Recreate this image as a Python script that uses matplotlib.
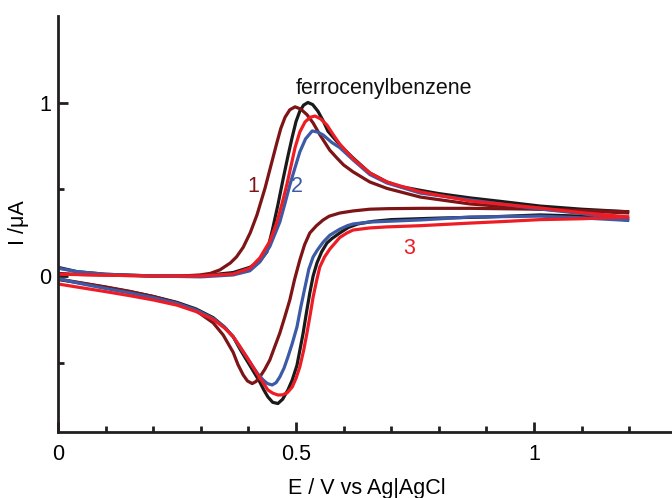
import matplotlib
matplotlib.use("Agg")
import matplotlib.pyplot as plt
from matplotlib.ticker import FixedLocator

plt.rcParams['font.family'] = ['Liberation Sans', 'DejaVu Sans']

# ferrocenylbenzene (black)
blk_fwd_E = [0.0, 0.04, 0.10, 0.20, 0.30, 0.368, 0.403, 0.424, 0.439, 0.450, 0.462, 0.473, 0.483, 0.492, 0.500, 0.508, 0.516, 0.525, 0.535, 0.546, 0.557, 0.567, 0.586, 0.605, 0.620, 0.655, 0.691, 0.72, 0.761, 0.80, 0.866, 0.93, 1.013, 1.1, 1.2]
blk_fwd_I = [0.05, 0.025, 0.01, 0.0, 0.0, 0.02, 0.05, 0.085, 0.14, 0.26, 0.41, 0.56, 0.69, 0.80, 0.89, 0.95, 0.985, 1.0, 0.988, 0.95, 0.895, 0.835, 0.775, 0.72, 0.68, 0.594, 0.542, 0.515, 0.494, 0.475, 0.450, 0.43, 0.403, 0.385, 0.37]
blk_rev_E = [1.2, 1.1, 1.013, 0.90, 0.803, 0.70, 0.662, 0.630, 0.610, 0.592, 0.575, 0.565, 0.554, 0.544, 0.536, 0.529, 0.522, 0.515, 0.508, 0.502, 0.492, 0.483, 0.472, 0.462, 0.451, 0.441, 0.432, 0.424, 0.403, 0.382, 0.368, 0.35, 0.326, 0.29, 0.25, 0.20, 0.15, 0.10, 0.05, 0.0]
blk_rev_I = [0.33, 0.345, 0.352, 0.34, 0.334, 0.325, 0.315, 0.30, 0.28, 0.248, 0.215, 0.190, 0.14, 0.075, 0.0, -0.098, -0.21, -0.329, -0.43, -0.515, -0.60, -0.657, -0.71, -0.735, -0.728, -0.697, -0.655, -0.611, -0.515, -0.42, -0.35, -0.295, -0.24, -0.19, -0.152, -0.118, -0.09, -0.065, -0.042, -0.02]

# 1 (dark red)
dr_fwd_E = [0.0, 0.05, 0.10, 0.20, 0.26, 0.298, 0.320, 0.340, 0.362, 0.375, 0.389, 0.404, 0.418, 0.435, 0.450, 0.460, 0.468, 0.477, 0.487, 0.498, 0.510, 0.523, 0.536, 0.550, 0.571, 0.586, 0.600, 0.620, 0.655, 0.691, 0.761, 0.866, 1.013, 1.1, 1.2]
dr_fwd_I = [0.015, 0.008, 0.005, 0.0, 0.0, 0.006, 0.015, 0.035, 0.075, 0.11, 0.165, 0.25, 0.352, 0.507, 0.665, 0.77, 0.85, 0.915, 0.958, 0.975, 0.962, 0.93, 0.882, 0.815, 0.725, 0.68, 0.64, 0.60, 0.542, 0.505, 0.455, 0.415, 0.385, 0.375, 0.363]
dr_rev_E = [1.2, 1.1, 1.013, 0.866, 0.761, 0.691, 0.655, 0.620, 0.592, 0.570, 0.557, 0.543, 0.529, 0.518, 0.508, 0.497, 0.487, 0.476, 0.466, 0.455, 0.445, 0.434, 0.424, 0.416, 0.408, 0.398, 0.389, 0.378, 0.368, 0.347, 0.326, 0.29, 0.25, 0.20, 0.15, 0.10, 0.05, 0.0]
dr_rev_I = [0.37, 0.378, 0.385, 0.39, 0.39, 0.388, 0.385, 0.375, 0.363, 0.345, 0.323, 0.29, 0.248, 0.18, 0.092, -0.02, -0.138, -0.24, -0.329, -0.41, -0.484, -0.54, -0.582, -0.608, -0.62, -0.605, -0.57, -0.51, -0.44, -0.34, -0.27, -0.2, -0.155, -0.118, -0.088, -0.063, -0.04, -0.017]

# 2 (blue)
bl_fwd_E = [0.0, 0.04, 0.10, 0.20, 0.30, 0.368, 0.403, 0.424, 0.445, 0.466, 0.477, 0.487, 0.498, 0.508, 0.520, 0.534, 0.545, 0.557, 0.575, 0.592, 0.620, 0.655, 0.691, 0.761, 0.866, 1.013, 1.1, 1.2]
bl_fwd_I = [0.045, 0.025, 0.01, 0.0, -0.005, 0.006, 0.03, 0.081, 0.17, 0.311, 0.42, 0.524, 0.625, 0.715, 0.79, 0.836, 0.83, 0.813, 0.77, 0.74, 0.669, 0.585, 0.536, 0.478, 0.438, 0.386, 0.36, 0.32]
bl_rev_E = [1.2, 1.1, 1.013, 0.866, 0.761, 0.691, 0.655, 0.620, 0.608, 0.592, 0.571, 0.557, 0.545, 0.536, 0.527, 0.519, 0.510, 0.502, 0.492, 0.483, 0.475, 0.466, 0.458, 0.450, 0.440, 0.431, 0.420, 0.410, 0.397, 0.382, 0.368, 0.35, 0.326, 0.29, 0.25, 0.20, 0.15, 0.10, 0.05, 0.0]
bl_rev_I = [0.32, 0.335, 0.345, 0.34, 0.323, 0.315, 0.311, 0.30, 0.29, 0.27, 0.235, 0.195, 0.15, 0.11, 0.04, -0.063, -0.18, -0.294, -0.39, -0.467, -0.53, -0.582, -0.615, -0.628, -0.62, -0.599, -0.565, -0.525, -0.47, -0.41, -0.35, -0.295, -0.245, -0.195, -0.158, -0.125, -0.097, -0.072, -0.045, -0.015]

# 3 (red)
rd_fwd_E = [0.0, 0.05, 0.10, 0.20, 0.30, 0.368, 0.403, 0.424, 0.445, 0.460, 0.471, 0.481, 0.490, 0.498, 0.508, 0.519, 0.530, 0.540, 0.552, 0.565, 0.578, 0.592, 0.620, 0.655, 0.691, 0.761, 0.866, 1.013, 1.1, 1.2]
rd_fwd_I = [0.01, 0.008, 0.005, 0.0, 0.0, 0.012, 0.045, 0.104, 0.2, 0.311, 0.42, 0.53, 0.64, 0.74, 0.83, 0.888, 0.915, 0.922, 0.905, 0.870, 0.815, 0.76, 0.675, 0.594, 0.542, 0.485, 0.432, 0.392, 0.365, 0.34]
rd_rev_E = [1.2, 1.1, 1.013, 0.943, 0.866, 0.761, 0.691, 0.655, 0.620, 0.607, 0.592, 0.571, 0.560, 0.550, 0.543, 0.536, 0.530, 0.523, 0.516, 0.508, 0.500, 0.492, 0.482, 0.472, 0.462, 0.451, 0.441, 0.424, 0.403, 0.382, 0.368, 0.35, 0.326, 0.29, 0.25, 0.20, 0.15, 0.10, 0.05, 0.0]
rd_rev_I = [0.34, 0.33, 0.325, 0.315, 0.305, 0.29, 0.283, 0.277, 0.265, 0.248, 0.222, 0.155, 0.11, 0.052, -0.03, -0.121, -0.22, -0.329, -0.43, -0.524, -0.59, -0.640, -0.672, -0.685, -0.686, -0.675, -0.657, -0.588, -0.495, -0.405, -0.35, -0.3, -0.25, -0.205, -0.168, -0.138, -0.113, -0.09, -0.068, -0.046]

x_major = [0, 0.5, 1]
x_major_labels = ["0", "0.5", "1"]
x_minor = [0.1, 0.2, 0.3, 0.4, 0.6, 0.7, 0.8, 0.9, 1.1, 1.2]
y_major = [0, 1]
y_major_labels = ["0", "1"]
y_minor = [-0.5, 0.5, 1.5]

fig = plt.figure(figsize=(6.72, 4.98), dpi=100)
ax = fig.add_axes([58/672, 1-431.5/498, 1-58/672, (431.5-16)/498])

c_blk = "#1a1a1a"
c_dr = "#7d1416"
c_bl = "#3d5aa6"
c_rd = "#ee1d25"
lw = 2.3
for E1, I1, E2, I2, c in [
    (blk_fwd_E, blk_fwd_I, blk_rev_E, blk_rev_I, c_blk),
    (dr_fwd_E, dr_fwd_I, dr_rev_E, dr_rev_I, c_dr),
    (bl_fwd_E, bl_fwd_I, bl_rev_E, bl_rev_I, c_bl),
    (rd_fwd_E, rd_fwd_I, rd_rev_E, rd_rev_I, c_rd),
]:
    ax.plot(E1, I1, color=c, lw=lw, solid_joinstyle='round', solid_capstyle='butt')
    ax.plot(E2, I2, color=c, lw=lw, solid_joinstyle='round', solid_capstyle='butt')

ax.set_xlim(0, (672-58)/476)
ax.set_ylim(-(431.5-276)/173.5, (276-16)/173.5)

for s in ['top', 'right']:
    ax.spines[s].set_visible(False)
for s in ['left', 'bottom']:
    ax.spines[s].set_linewidth(2.0)
    ax.spines[s].set_color('#231f20')

fs = 15.5
ax.set_xticks(x_major)
ax.set_xticklabels(x_major_labels)
ax.set_yticks(y_major)
ax.set_yticklabels(y_major_labels)
ax.xaxis.set_minor_locator(FixedLocator(x_minor))
ax.yaxis.set_minor_locator(FixedLocator(y_minor))
ax.tick_params(which='major', direction='in', length=7, width=2.0, labelsize=fs, color='#231f20')
ax.tick_params(axis='x', which='major', pad=9)
ax.tick_params(axis='y', which='major', pad=5)
ax.tick_params(which='minor', direction='in', length=4, width=2.0, color='#231f20')

ax.set_xlabel("E / V vs Ag|AgCl", fontsize=fs)
ax.set_ylabel("I /\u03bcA", fontsize=fs)
ax.xaxis.set_label_coords((367-58)/614, (431.5-478)/415.5)
ax.yaxis.set_label_coords((29-58)/614, (431.5-223)/415.5)

ax.text(0.685, 1.083, "ferrocenylbenzene", fontsize=fs, ha='center', va='center', color='#111111')
ax.text(0.41, 0.513, "1", fontsize=fs, ha='center', va='center', color=c_dr)
ax.text(0.502, 0.513, "2", fontsize=fs, ha='center', va='center', color=c_bl)
ax.text(0.737, 0.161, "3", fontsize=fs, ha='center', va='center', color=c_rd)

fig.savefig("out.png", dpi=100)
